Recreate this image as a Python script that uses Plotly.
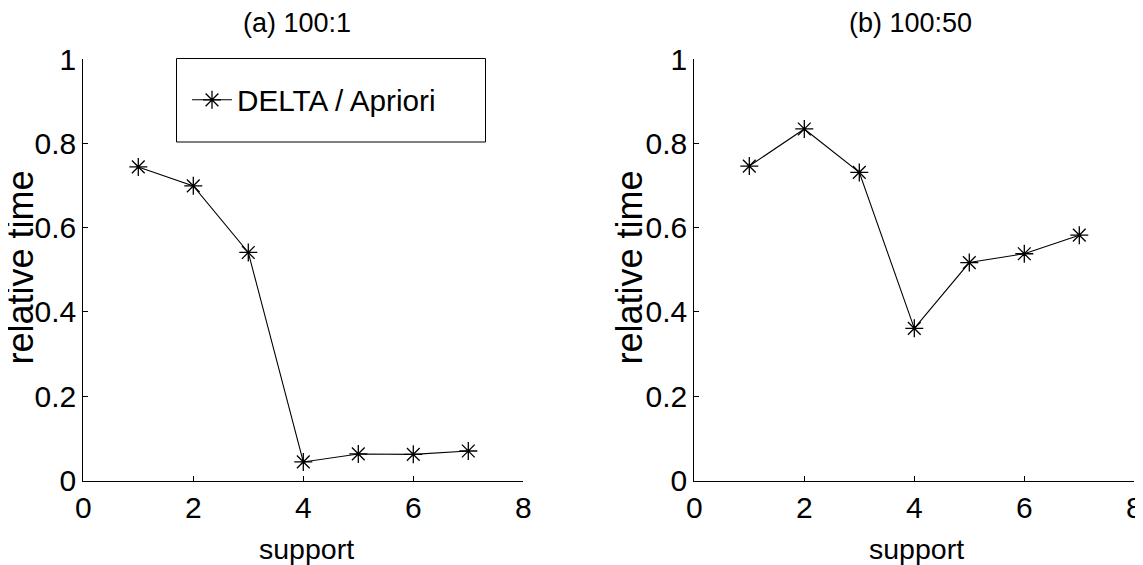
import plotly.graph_objects as go

support = [1, 2, 3, 4, 5, 6, 7]
ratio_a = [0.744, 0.699, 0.541, 0.044, 0.063, 0.062, 0.070]
ratio_b = [0.746, 0.834, 0.731, 0.361, 0.517, 0.538, 0.582]
titles = ["(a) 100:1", "(b) 100:50"]
series_name = "DELTA / Apriori"
x_label = "support"
y_label = "relative time"
x_ticks = [0, 2, 4, 6, 8]
y_ticks = [0, 0.2, 0.4, 0.6, 0.8, 1]
y_ticklabels = ["0", "0.2", "0.4", "0.6", "0.8", "1"]

# page body has an 8px margin; the figure fills the rest of the window
OFF = 8
W, H = 1143 - OFF, 565 - OFF
FONT = "Liberation Sans, Arial, Helvetica, sans-serif"

def px(x):
    return (x - OFF) / W

def py(y):
    return 1 - (y - OFF) / H

fig = go.Figure()

marker = dict(symbol="asterisk-open", size=15, color="black", line=dict(color="black", width=1.3))
fig.add_trace(go.Scatter(x=support, y=ratio_a, mode="lines+markers", name=series_name,
                         line=dict(color="black", width=1.1), marker=marker,
                         xaxis="x", yaxis="y", showlegend=True))
fig.add_trace(go.Scatter(x=support, y=ratio_b, mode="lines+markers", name=series_name,
                         line=dict(color="black", width=1.1), marker=marker,
                         xaxis="x2", yaxis="y2", showlegend=False))

ax_common = dict(showgrid=False, zeroline=False, showline=True, linecolor="black", linewidth=1,
                 ticks="inside", ticklen=5, tickcolor="black", tickwidth=1, automargin=False,
                 tickfont=dict(family=FONT, size=30, color="black"))

x_dom1 = [px(83.3), px(523.3)]
x_dom2 = [px(694.3), px(1134.3)]
y_dom = [py(480.5), py(59)]

fig.update_layout(
    width=W, height=H,
    margin=dict(l=0, r=0, t=0, b=0, autoexpand=False),
    paper_bgcolor="white", plot_bgcolor="white",
    font=dict(family=FONT, color="black"),
    xaxis=dict(domain=x_dom1, range=[0, 8], tickvals=x_ticks, anchor="y", **ax_common),
    yaxis=dict(domain=y_dom, range=[0, 1], tickvals=y_ticks, ticktext=y_ticklabels, anchor="x", **ax_common),
    xaxis2=dict(domain=x_dom2, range=[0, 8], tickvals=x_ticks, anchor="y2", **ax_common),
    yaxis2=dict(domain=y_dom, range=[0, 1], tickvals=y_ticks, ticktext=y_ticklabels, anchor="x2", **ax_common),
    showlegend=True,
    legend=dict(x=px(187), y=py(100), xanchor="left", yanchor="middle",
                bgcolor="rgba(0,0,0,0)", borderwidth=0,
                font=dict(family=FONT, size=29.7, color="black"), itemwidth=40),
)

# legend box
fig.add_shape(type="rect", xref="paper", yref="paper",
              x0=px(176.5), x1=px(485.5), y0=py(142), y1=py(58.5),
              line=dict(color="black", width=1), fillcolor="rgba(0,0,0,0)", layer="below")

# subplot titles and axis titles
title_x = [297, 910]
xlabel_x = [306, 916]
ylabel_x = [20, 629]
for i in range(2):
    fig.add_annotation(text=titles[i], xref="paper", yref="paper",
                       x=px(title_x[i]), y=py(23), xanchor="center", yanchor="middle",
                       showarrow=False, font=dict(family=FONT, size=27, color="black"))
    fig.add_annotation(text=x_label, xref="paper", yref="paper",
                       x=px(xlabel_x[i]), y=py(549), xanchor="center", yanchor="middle",
                       showarrow=False, font=dict(family=FONT, size=28.5, color="black"))
    fig.add_annotation(text=y_label, xref="paper", yref="paper", textangle=-90,
                       x=px(ylabel_x[i]), y=py(267.5), xanchor="center", yanchor="middle",
                       borderpad=0, showarrow=False, font=dict(family=FONT, size=36, color="black"))

fig.write_html("out.html")
